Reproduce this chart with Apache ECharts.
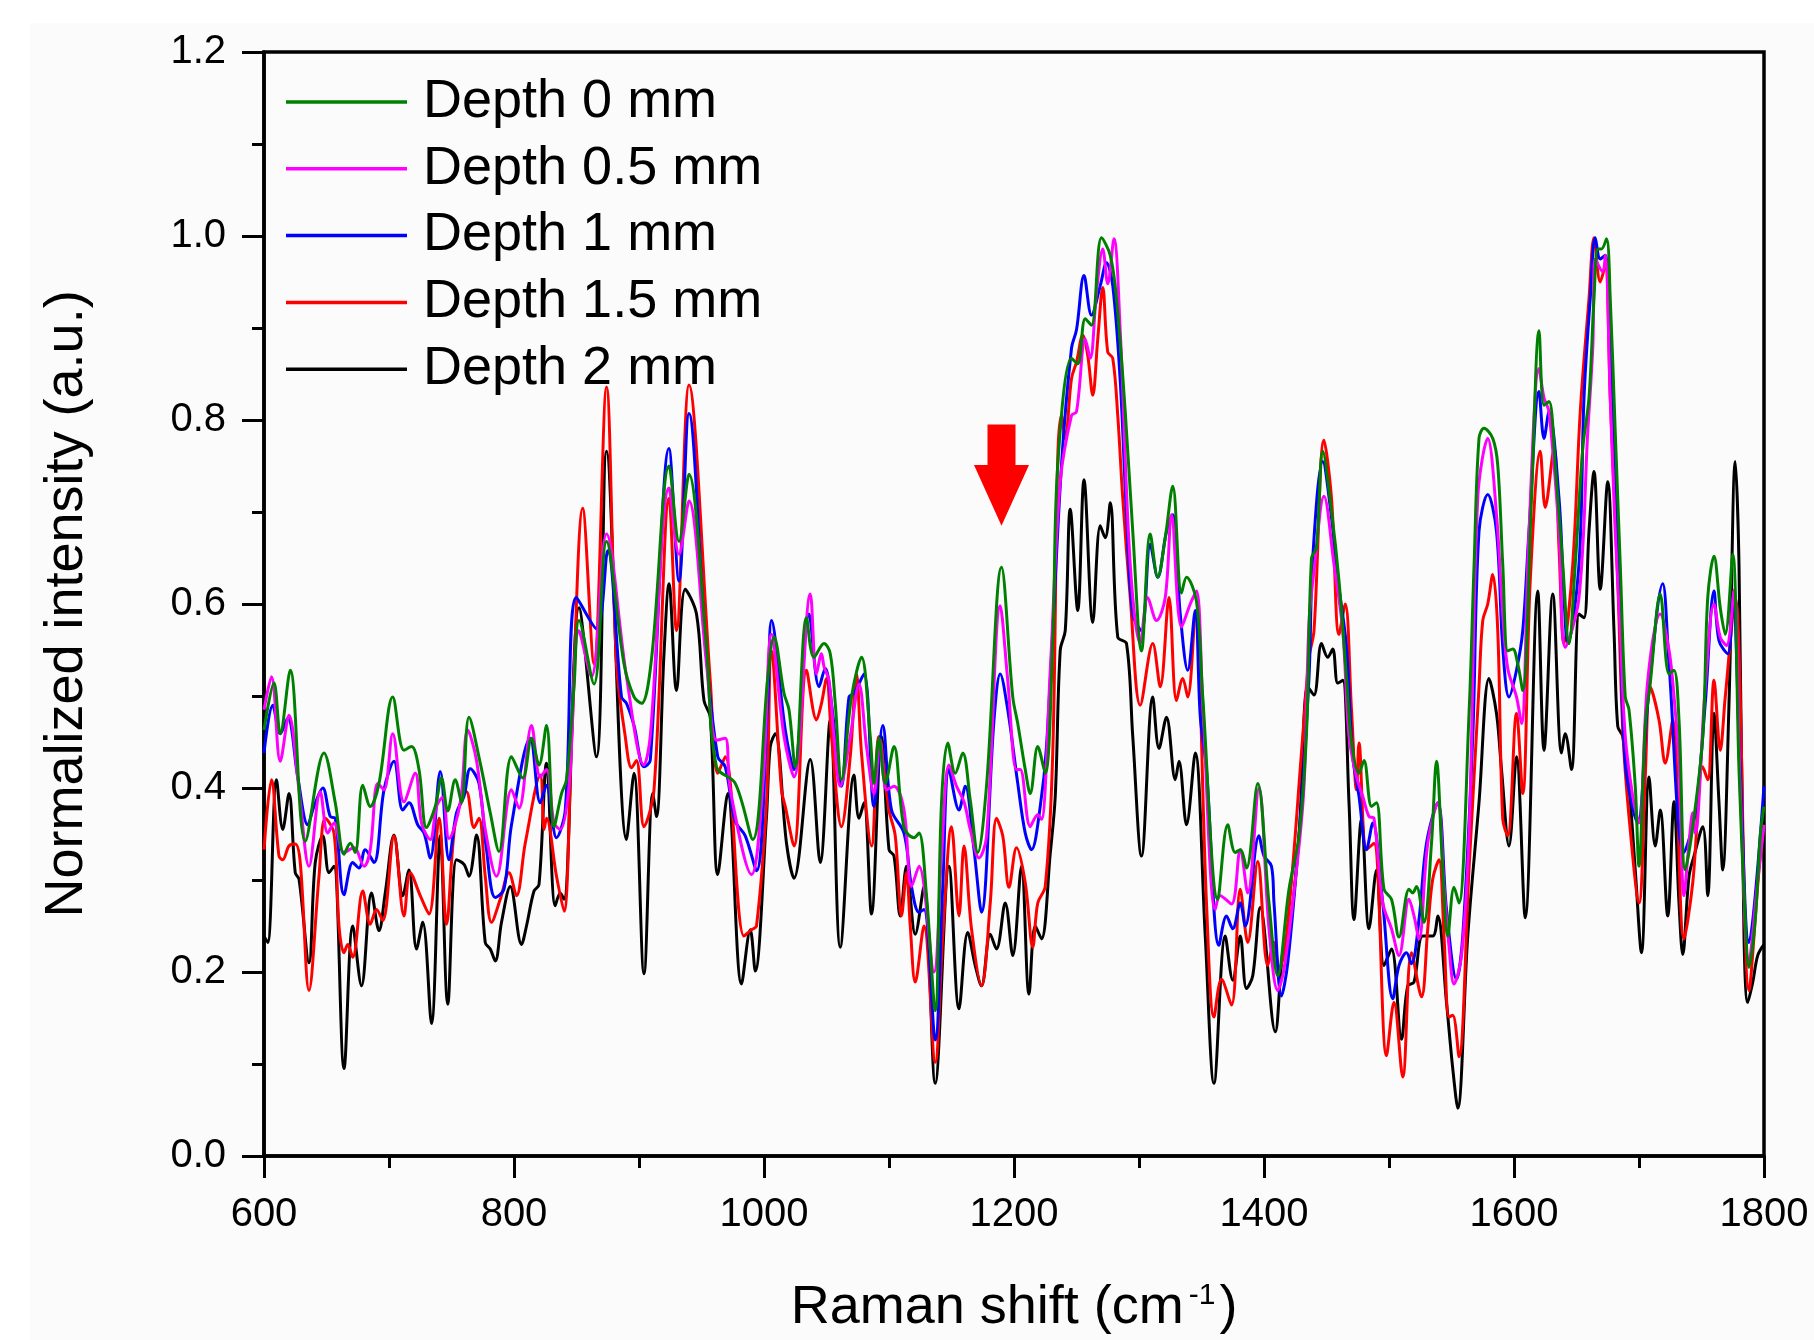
<!DOCTYPE html>
<html><head><meta charset="utf-8">
<script src="https://cdn.jsdelivr.net/npm/echarts@6/dist/echarts.min.js"></script>
<style>html,body{margin:0;padding:0;background:#fff}#c{width:1814px;height:1340px}</style>
</head><body><div id="c"></div><script>
// ---- data (Raman shift cm^-1, normalized intensity) ----
const seriesNames = ['Depth 0 mm','Depth 0.5 mm','Depth 1 mm','Depth 1.5 mm','Depth 2 mm'];
const seriesColors = ['#008000','#ff00ff','#0000ff','#ff0000','#000000'];
const xTicks = [600,800,1000,1200,1400,1600,1800];
const yTicks = [0.0,0.2,0.4,0.6,0.8,1.0,1.2];

const depth0 = [[600,.463],[608,.514],[613,.459],[621,.528],[633,.342],[648,.438],[657,.384],[664,.328],[669,.340],[673,.330],[679,.403],[685,.380],[692,.405],[703,.499],[712,.441],[718,.445],[724,.420],[730,.357],[737,.380],[742,.411],[747,.375],[753,.409],[758,.384],[764,.477],[773,.427],[781,.373],[788,.331],[798,.434],[807,.411],[814,.454],[820,.425],[826,.468],[832,.358],[838,.394],[842,.409],[848,.510],[852,.582],[864,.513],[874,.668],[888,.535],[896,.499],[902,.492],[910,.54],[924,.750],[932,.668],[940,.741],[954,.553],[962,.423],[977,.405],[991,.344],[1003,.52],[1008,.564],[1016,.503],[1020,.485],[1025,.423],[1034,.585],[1040,.542],[1048,.557],[1053,.546],[1057,.492],[1062,.409],[1070,.499],[1078,.542],[1085,.456],[1088,.405],[1092,.454],[1097,.405],[1104,.445],[1112,.357],[1120,.346],[1124,.351],[1130,.283],[1137,.158],[1142,.384],[1147,.449],[1153,.416],[1159,.438],[1165,.387],[1171,.330],[1178,.402],[1190,.640],[1199,.499],[1203,.470],[1209,.420],[1213,.394],[1219,.445],[1225,.416],[1231,.560],[1235,.751],[1246,.867],[1251,.861],[1257,.910],[1262,.903],[1270,.998],[1277,.979],[1282,.932],[1289,.809],[1295,.679],[1302,.549],[1309,.676],[1315,.629],[1321,.672],[1327,.728],[1334,.612],[1338,.629],[1346,.603],[1351,.499],[1363,.279],[1371,.360],[1377,.330],[1381,.333],[1386,.313],[1395,.405],[1404,.275],[1411,.196],[1420,.290],[1428,.348],[1434,.46],[1438,.650],[1442,.661],[1447,.766],[1454,.701],[1460,.625],[1466,.52],[1470,.45],[1476,.416],[1480,.430],[1486,.380],[1490,.384],[1496,.290],[1502,.279],[1508,.238],[1516,.290],[1519,.286],[1522,.293],[1528,.254],[1534,.340],[1538,.429],[1543,.311],[1547,.239],[1552,.292],[1556,.275],[1564,.48],[1568,.64],[1572,.780],[1576,.791],[1583,.780],[1587,.751],[1591,.643],[1595,.549],[1599,.551],[1603,.535],[1607,.506],[1614,.715],[1620,.897],[1624,.816],[1628,.820],[1633,.751],[1639,.643],[1644,.557],[1649,.643],[1655,.769],[1660,.824],[1664,.932],[1667,.986],[1670,.986],[1674,.997],[1677,.932],[1681,.787],[1685,.643],[1689,.499],[1692,.485],[1697,.402],[1700,.315],[1705,.467],[1709,.514],[1717,.611],[1724,.524],[1728,.528],[1732,.474],[1737,.311],[1743,.358],[1751,.456],[1755,.607],[1760,.652],[1765,.596],[1769,.567],[1775,.654],[1780,.420],[1785,.257],[1788,.205],[1793,.257],[1797,.348],[1800,.38]];

const depth05 = [[600,.485],[606,.521],[613,.429],[620,.479],[628,.398],[636,.315],[645,.396],[651,.351],[656,.362],[664,.330],[672,.335],[680,.315],[685,.333],[691,.405],[696,.398],[703,.459],[712,.385],[721,.416],[726,.362],[733,.344],[738,.38],[743,.39],[748,.345],[757,.384],[763,.463],[770,.430],[777,.355],[786,.304],[798,.398],[804,.378],[814,.468],[821,.412],[826,.420],[832,.362],[837,.355],[844,.402],[852,.571],[862,.521],[874,.676],[890,.521],[904,.425],[909,.456],[924,.726],[932,.654],[940,.712],[954,.535],[962,.452],[969,.454],[973,.398],[990,.306],[999,.402],[1006,.567],[1016,.456],[1024,.412],[1037,.611],[1042,.524],[1046,.546],[1048,.532],[1052,.517],[1056,.456],[1061,.402],[1069,.456],[1076,.513],[1082,.445],[1088,.394],[1093,.452],[1098,.398],[1104,.402],[1112,.376],[1118,.293],[1124,.315],[1136,.200],[1142,.326],[1148,.425],[1154,.402],[1160,.385],[1165,.355],[1172,.324],[1178,.347],[1189,.598],[1195,.517],[1202,.420],[1205,.420],[1213,.358],[1219,.371],[1222,.366],[1229,.528],[1237,.733],[1246,.805],[1250,.809],[1257,.888],[1261,.867],[1266,.939],[1271,.986],[1275,.948],[1280,.997],[1285,.896],[1293,.643],[1301,.557],[1307,.607],[1314,.582],[1321,.607],[1326,.697],[1334,.575],[1341,.600],[1346,.614],[1351,.492],[1361,.268],[1365,.283],[1374,.274],[1381,.333],[1387,.286],[1396,.40],[1404,.247],[1411,.180],[1416,.203],[1426,.311],[1432,.402],[1436,.58],[1440,.636],[1448,.717],[1456,.643],[1463,.571],[1468,.456],[1474,.412],[1479,.391],[1484,.369],[1488,.367],[1495,.275],[1502,.247],[1508,.218],[1516,.279],[1520,.261],[1524,.236],[1531,.340],[1539,.384],[1544,.293],[1548,.228],[1552,.187],[1558,.218],[1564,.348],[1571,.715],[1579,.780],[1586,.697],[1591,.589],[1595,.53],[1602,.499],[1606,.470],[1612,.679],[1620,.856],[1624,.824],[1628,.809],[1636,.679],[1641,.553],[1652,.607],[1659,.787],[1663,.878],[1665,.975],[1671,.961],[1673,.979],[1677,.824],[1681,.679],[1685,.571],[1689,.456],[1695,.391],[1700,.362],[1707,.517],[1717,.589],[1724,.55],[1728,.50],[1732,.427],[1736,.283],[1740,.340],[1743,.373],[1745,.351],[1753,.510],[1760,.600],[1765,.564],[1770,.555],[1776,.615],[1781,.40],[1788,.212],[1795,.30],[1800,.36]];

const depth1 = [[600,.438],[607,.490],[613,.459],[619,.476],[627,.412],[635,.360],[640,.380],[647,.400],[653,.369],[657,.367],[664,.284],[671,.319],[676,.313],[681,.333],[688,.319],[696,.398],[704,.429],[711,.376],[716,.384],[723,.360],[728,.351],[733,.324],[741,.418],[748,.322],[754,.373],[760,.391],[765,.421],[772,.405],[778,.333],[785,.281],[792,.290],[798,.360],[813,.454],[821,.384],[826,.403],[834,.346],[841,.376],[850,.607],[866,.573],[875,.658],[886,.499],[890,.492],[896,.468],[904,.423],[909,.430],[924,.769],[932,.625],[940,.807],[954,.542],[963,.434],[969,.423],[977,.364],[985,.348],[994,.310],[1003,.492],[1006,.582],[1017,.463],[1024,.420],[1036,.589],[1044,.510],[1049,.530],[1054,.492],[1062,.402],[1068,.499],[1072,.503],[1080,.524],[1088,.380],[1095,.468],[1102,.376],[1112,.351],[1118,.293],[1124,.265],[1128,.268],[1137,.126],[1143,.293],[1148,.420],[1156,.376],[1161,.402],[1168,.333],[1174,.265],[1184,.474],[1189,.524],[1195,.485],[1203,.405],[1209,.351],[1214,.333],[1221,.380],[1226,.445],[1238,.751],[1246,.878],[1250,.898],[1256,.957],[1262,.914],[1269,.946],[1274,.971],[1279,.946],[1285,.842],[1290,.697],[1295,.589],[1302,.571],[1309,.665],[1315,.629],[1322,.679],[1327,.697],[1333,.589],[1339,.528],[1345,.593],[1349,.478],[1354,.420],[1364,.229],[1370,.261],[1375,.247],[1381,.275],[1385,.250],[1396,.348],[1400,.326],[1406,.315],[1408,.275],[1414,.174],[1419,.210],[1428,.348],[1436,.52],[1439,.650],[1447,.755],[1454,.694],[1460,.618],[1466,.553],[1471,.434],[1476,.391],[1482,.333],[1487,.362],[1495,.275],[1503,.171],[1508,.207],[1514,.221],[1518,.209],[1524,.257],[1530,.340],[1539,.384],[1546,.268],[1554,.192],[1559,.239],[1567,.456],[1572,.679],[1579,.719],[1586,.679],[1591,.553],[1596,.499],[1602,.528],[1607,.571],[1612,.679],[1620,.831],[1624,.780],[1628,.809],[1636,.715],[1640,.607],[1643,.557],[1652,.643],[1656,.824],[1661,.932],[1665,.998],[1669,.975],[1673,.979],[1679,.824],[1684,.643],[1689,.427],[1699,.362],[1707,.492],[1719,.622],[1724,.535],[1736,.330],[1745,.373],[1753,.492],[1760,.614],[1764,.560],[1771,.546],[1775,.607],[1781,.42],[1788,.232],[1800,.402]];

const depth15 = [[600,.333],[606,.409],[612,.326],[615,.322],[620,.337],[625,.339],[629,.319],[636,.180],[644,.304],[649,.367],[656,.351],[660,.250],[664,.221],[667,.230],[671,.216],[679,.288],[685,.252],[690,.268],[695,.256],[704,.348],[712,.261],[717,.308],[725,.283],[732,.263],[740,.367],[746,.252],[753,.362],[762,.396],[768,.357],[772,.367],[777,.304],[782,.254],[789,.279],[796,.308],[802,.283],[809,.340],[821,.414],[824,.355],[826,.367],[834,.304],[840,.266],[846,.45],[855,.704],[864,.535],[874,.836],[882,.535],[889,.456],[894,.422],[898,.430],[904,.358],[912,.398],[924,.715],[930,.571],[940,.838],[957,.517],[963,.416],[969,.434],[984,.239],[990,.246],[994,.250],[1002,.384],[1006,.549],[1014,.398],[1017,.380],[1024,.337],[1034,.528],[1042,.474],[1046,.492],[1050,.519],[1054,.456],[1062,.358],[1069,.434],[1074,.524],[1078,.438],[1086,.337],[1092,.456],[1100,.376],[1105,.348],[1110,.261],[1114,.308],[1117,.250],[1121,.189],[1128,.250],[1137,.102],[1143,.239],[1150,.358],[1156,.261],[1160,.337],[1166,.247],[1174,.185],[1181,.275],[1186,.367],[1191,.348],[1196,.292],[1202,.335],[1209,.297],[1215,.227],[1219,.275],[1225,.293],[1231,.438],[1235,.759],[1238,.805],[1241,.780],[1246,.845],[1250,.863],[1255,.892],[1259,.870],[1263,.827],[1267,.888],[1271,.944],[1275,.874],[1279,.867],[1283,.805],[1287,.715],[1293,.607],[1301,.490],[1311,.557],[1317,.510],[1324,.607],[1330,.495],[1335,.519],[1339,.499],[1345,.589],[1354,.275],[1360,.151],[1366,.192],[1374,.164],[1381,.290],[1387,.232],[1395,.32],[1403,.207],[1408,.232],[1412,.203],[1418,.239],[1431,.456],[1436,.542],[1440,.571],[1448,.778],[1454,.715],[1460,.567],[1465,.600],[1470,.485],[1474,.398],[1476,.449],[1482,.333],[1488,.340],[1498,.109],[1504,.167],[1511,.086],[1518,.221],[1526,.173],[1531,.247],[1535,.301],[1540,.322],[1544,.239],[1548,.151],[1551,.153],[1556,.108],[1564,.311],[1572,.510],[1575,.582],[1579,.600],[1583,.632],[1587,.571],[1591,.366],[1595,.348],[1602,.481],[1607,.394],[1613,.625],[1621,.766],[1625,.705],[1632,.769],[1636,.661],[1640,.557],[1647,.643],[1653,.809],[1660,.932],[1664,.998],[1669,.950],[1673,.968],[1677,.824],[1683,.625],[1687,.463],[1692,.369],[1700,.275],[1705,.412],[1709,.510],[1716,.474],[1721,.427],[1727,.474],[1736,.236],[1743,.297],[1751,.423],[1755,.409],[1760,.517],[1765,.441],[1769,.499],[1777,.607],[1788,.180],[1796,.311],[1800,.36]];

const depth2 = [[600,.239],[603,.232],[610,.409],[615,.355],[620,.394],[625,.308],[628,.301],[636,.210],[641,.319],[647,.348],[652,.308],[656,.315],[664,.095],[671,.250],[678,.185],[686,.286],[692,.245],[697,.286],[704,.349],[711,.283],[716,.311],[722,.225],[727,.254],[734,.144],[741,.348],[747,.165],[754,.322],[760,.317],[764,.304],[770,.349],[777,.232],[781,.225],[785,.212],[790,.254],[797,.293],[806,.230],[810,.250],[816,.288],[820,.295],[826,.427],[833,.272],[837,.286],[840,.279],[852,.596],[866,.434],[874,.766],[890,.344],[896,.416],[904,.198],[911,.394],[914,.369],[920,.546],[924,.622],[930,.506],[937,.616],[946,.589],[952,.495],[957,.477],[963,.306],[971,.394],[982,.187],[989,.246],[993,.201],[1002,.369],[1005,.445],[1009,.459],[1018,.340],[1024,.302],[1037,.431],[1045,.319],[1053,.474],[1061,.227],[1072,.414],[1076,.367],[1080,.384],[1086,.263],[1094,.456],[1100,.333],[1104,.326],[1109,.261],[1114,.315],[1121,.241],[1128,.293],[1137,.079],[1148,.315],[1156,.160],[1163,.243],[1169,.207],[1174,.185],[1181,.241],[1186,.225],[1193,.275],[1199,.218],[1206,.315],[1212,.176],[1217,.250],[1222,.236],[1229,.329],[1233,.391],[1237,.550],[1241,.571],[1245,.703],[1251,.593],[1256,.735],[1263,.580],[1269,.685],[1273,.672],[1277,.710],[1283,.564],[1290,.557],[1295,.456],[1302,.326],[1311,.499],[1316,.443],[1322,.477],[1329,.409],[1332,.429],[1338,.360],[1345,.438],[1353,.239],[1360,.079],[1369,.239],[1375,.191],[1381,.239],[1386,.182],[1391,.196],[1397,.27],[1409,.135],[1415,.221],[1419,.229],[1428,.348],[1435,.510],[1440,.501],[1446,.557],[1451,.542],[1455,.551],[1459,.514],[1463,.517],[1468,.384],[1472,.257],[1478,.366],[1484,.247],[1490,.311],[1496,.207],[1502,.225],[1510,.127],[1515,.185],[1520,.189],[1527,.239],[1535,.239],[1539,.261],[1546,.167],[1551,.095],[1555,.052],[1563,.239],[1572,.384],[1580,.519],[1586,.481],[1590,.420],[1596,.337],[1602,.434],[1609,.259],[1619,.614],[1624,.441],[1631,.611],[1638,.438],[1641,.459],[1646,.420],[1652,.589],[1656,.585],[1660,.679],[1664,.744],[1669,.616],[1675,.733],[1680,.571],[1683,.467],[1687,.456],[1692,.402],[1697,.311],[1702,.221],[1708,.412],[1713,.337],[1717,.376],[1723,.261],[1728,.385],[1732,.275],[1735,.219],[1740,.304],[1744,.326],[1751,.358],[1755,.283],[1760,.481],[1764,.384],[1767,.311],[1772,.492],[1777,.755],[1780,.643],[1784,.239],[1787,.167],[1791,.189],[1795,.218],[1800,.23]];

// annotation arrow (data coords of tip, head base, shaft top)
const arrowAt = {x:1190, tip:0.685, headBase:0.751, shaftTop:0.795};

const allData = [depth0, depth05, depth1, depth15, depth2];
const FONT = '"Liberation Sans", Arial, sans-serif';

const chart = echarts.init(document.getElementById('c'), null, {renderer:'canvas'});
const grid = {left:264, right:50, top:52, bottom:174, show:true, borderColor:'#000', borderWidth:3.5, backgroundColor:'transparent'};

// draw black first so green ends on top
const order = [4,3,2,1,0];
const series = order.map(i => ({
  name: seriesNames[i], type:'line', data: allData[i], showSymbol:false, symbol:'none',
  smooth:0.35, color: seriesColors[i],
  lineStyle:{color: seriesColors[i], width:3}, itemStyle:{color: seriesColors[i]},
  emphasis:{disabled:true}, animation:false, z:2
}));

chart.setOption({
  backgroundColor:'#ffffff',
  animation:false,
  grid: grid,
  legend:{
    data: seriesNames, orient:'vertical', left:281, top:70, itemWidth:121, itemHeight:3.5,
    itemGap:12.8, icon:'rect',
    textStyle:{fontFamily:FONT, fontSize:54, color:'#000', lineHeight:54, padding:[0,0,0,11]},
    selectedMode:false
  },
  xAxis:{
    type:'value', min:xTicks[0], max:xTicks[xTicks.length-1], interval:200,
    name:'{m|Raman shift (cm}{sup|-1}{m|)}', nameLocation:'middle', nameGap:125,
    nameTextStyle:{fontFamily:FONT, fontSize:54, color:'#000',
      rich:{
        m:{fontFamily:FONT, fontSize:54, color:'#000', lineHeight:54, padding:[16,0,0,0], verticalAlign:'bottom'},
        sup:{fontFamily:FONT, fontSize:30, color:'#000', lineHeight:30, verticalAlign:'top', padding:[0,4,0,5]}
      }},
    axisLine:{show:true, lineStyle:{color:'#000', width:3.5}},
    axisTick:{show:true, inside:false, length:22, lineStyle:{color:'#000', width:3}},
    minorTick:{show:true, splitNumber:2, length:12, lineStyle:{color:'#000', width:3}},
    axisLabel:{fontFamily:FONT, fontSize:40, color:'#000', margin:39, formatter:v=>String(v)},
    splitLine:{show:false}
  },
  yAxis:{
    type:'value', min:yTicks[0], max:yTicks[yTicks.length-1], interval:0.2,
    name:'Normalized intensity (a.u.)', nameLocation:'middle', nameGap:170,
    nameTextStyle:{fontFamily:FONT, fontSize:54, color:'#000'},
    axisLine:{show:true, lineStyle:{color:'#000', width:3.5}},
    axisTick:{show:true, inside:false, length:22, lineStyle:{color:'#000', width:3}},
    minorTick:{show:true, splitNumber:2, length:12, lineStyle:{color:'#000', width:3}},
    axisLabel:{fontFamily:FONT, fontSize:40, color:'#000', margin:38, formatter:v=>v.toFixed(1)},
    splitLine:{show:false}
  },
  series: series
});

function drawArrow(){
  const tip = chart.convertToPixel({gridIndex:0},[arrowAt.x, arrowAt.tip]);
  const hb = chart.convertToPixel({gridIndex:0},[arrowAt.x, arrowAt.headBase]);
  const st = chart.convertToPixel({gridIndex:0},[arrowAt.x, arrowAt.shaftTop]);
  const cx = tip[0], hw = 27.5, sw = 14;
  chart.setOption({graphic:[
    {type:'rect', z:-10, silent:true, shape:{x:30, y:23, width:1784, height:1317}, style:{fill:'#fbfbfb'}},
    {type:'polygon', z:100,
     shape:{points:[[cx-sw,st[1]],[cx+sw,st[1]],[cx+sw,hb[1]],[cx+hw,hb[1]],[cx,tip[1]],[cx-hw,hb[1]],[cx-sw,hb[1]]]},
     style:{fill:'#ff0000'}}
  ]});
}
drawArrow();
</script></body></html>
